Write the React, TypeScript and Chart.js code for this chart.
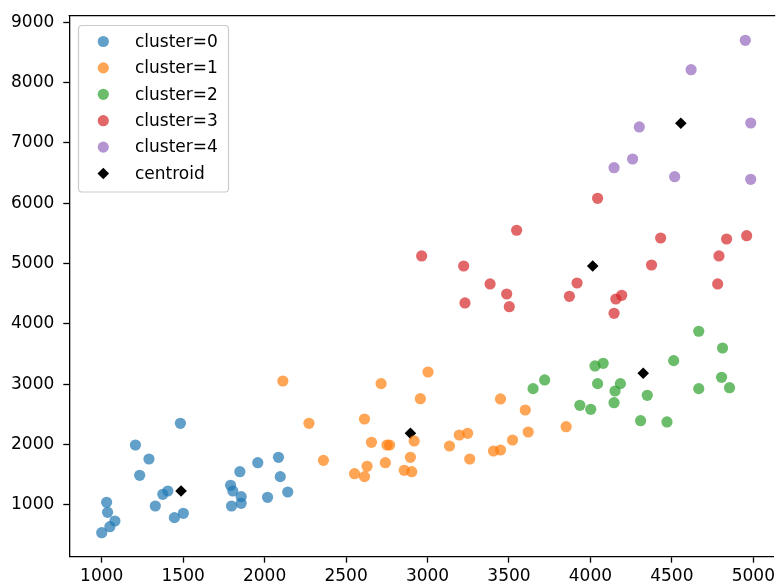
import { useEffect, useRef } from 'react';
import { Chart, registerables } from 'chart.js';

Chart.register(...registerables);

const cluster0X = [1000, 1030, 1036, 1050, 1081, 1207, 1233, 1290, 1329, 1375, 1406, 1446, 1483, 1501, 1791, 1805, 1797, 1856, 1856, 1848, 1958, 2018, 2085, 2096, 2142];
const cluster0Y = [541, 1045, 879, 640, 735, 1994, 1492, 1762, 983, 1177, 1232, 790, 2354, 862, 1326, 1232, 983, 1138, 1028, 1552, 1701, 1127, 1790, 1470, 1215];

const cluster1X = [2112, 2272, 2361, 2552, 2613, 2629, 2613, 2656, 2715, 2741, 2751, 2767, 2857, 2903, 2895, 2918, 2956, 3003, 3135, 3195, 3246, 3259, 3405, 3448, 3448, 3522, 3600, 3618, 3851];
const cluster1Y = [3055, 2354, 1740, 1519, 1470, 1641, 2425, 2039, 3011, 1701, 1994, 1994, 1575, 1552, 1790, 2061, 2762, 3204, 1978, 2160, 2188, 1762, 1895, 1911, 2757, 2077, 2574, 2210, 2298];

const cluster2X = [3648, 3719, 3935, 4002, 4028, 4078, 4044, 4184, 4151, 4145, 4349, 4308, 4470, 4511, 4665, 4665, 4811, 4805, 4854];
const cluster2Y = [2928, 3072, 2652, 2586, 3304, 3348, 3011, 3011, 2889, 2695, 2818, 2397, 2376, 3392, 3879, 2928, 3602, 3116, 2944];

const cluster3X = [2964, 3222, 3230, 3384, 3486, 3502, 3547, 3871, 3918, 4044, 4156, 4192, 4145, 4375, 4431, 4781, 4789, 4836, 4959];
const cluster3Y = [5127, 4961, 4348, 4663, 4497, 4286, 5553, 4459, 4679, 6083, 4414, 4475, 4177, 4977, 5425, 4663, 5127, 5408, 5463];

const cluster4X = [4951, 4618, 4300, 4984, 4259, 4145, 4517, 4984];
const cluster4Y = [8701, 8214, 7265, 7331, 6734, 6590, 6441, 6398];

const centroidX = [1487, 2895, 4324, 4014, 4555];
const centroidY = [1232, 2188, 3183, 4961, 7326];

const xTicks = [1000, 1500, 2000, 2500, 3000, 3500, 4000, 4500, 5000];
const yTicks = [1000, 2000, 3000, 4000, 5000, 6000, 7000, 8000, 9000];

const seriesLabels = ['cluster=0', 'cluster=1', 'cluster=2', 'cluster=3', 'cluster=4', 'centroid'];
const seriesColors = [
  'rgba(31,119,180,0.7)',
  'rgba(255,127,14,0.7)',
  'rgba(44,160,44,0.7)',
  'rgba(214,39,40,0.7)',
  'rgba(148,103,189,0.7)',
  '#000000',
];

const toPoints = (xs: number[], ys: number[]) => xs.map((x, i) => ({ x, y: ys[i] }));

const FONT = '"DejaVu Sans", sans-serif';
const POINT_R = 5.6;
const DIAMOND_R = 5.8;

function drawDiamond(ctx: CanvasRenderingContext2D, x: number, y: number, r: number) {
  ctx.beginPath();
  ctx.moveTo(x - r, y);
  ctx.lineTo(x, y - r);
  ctx.lineTo(x + r, y);
  ctx.lineTo(x, y + r);
  ctx.closePath();
  ctx.fill();
}

const framePlugin = {
  id: 'frameTop',
  afterDraw(chart: any) {
    const { ctx, chartArea } = chart;
    ctx.save();
    ctx.strokeStyle = '#000';
    ctx.lineWidth = 1.3;
    ctx.beginPath();
    ctx.moveTo(chartArea.left - 0.65, chartArea.top);
    ctx.lineTo(chartArea.right + 2, chartArea.top);
    ctx.stroke();
    ctx.restore();
  },
};

const legendPlugin = {
  id: 'boxLegend',
  afterDraw(chart: any) {
    const ctx: CanvasRenderingContext2D = chart.ctx;
    ctx.save();
    const x0 = 78.5, y0 = 25.5, w = 150, h = 166.5, r = 3.5;
    ctx.beginPath();
    ctx.moveTo(x0 + r, y0);
    ctx.lineTo(x0 + w - r, y0);
    ctx.arcTo(x0 + w, y0, x0 + w, y0 + r, r);
    ctx.lineTo(x0 + w, y0 + h - r);
    ctx.arcTo(x0 + w, y0 + h, x0 + w - r, y0 + h, r);
    ctx.lineTo(x0 + r, y0 + h);
    ctx.arcTo(x0, y0 + h, x0, y0 + h - r, r);
    ctx.lineTo(x0, y0 + r);
    ctx.arcTo(x0, y0, x0 + r, y0, r);
    ctx.closePath();
    ctx.fillStyle = 'rgba(255,255,255,0.8)';
    ctx.fill();
    ctx.strokeStyle = '#cccccc';
    ctx.lineWidth = 1.2;
    ctx.stroke();

    ctx.font = '17px ' + FONT;
    ctx.textAlign = 'left';
    ctx.textBaseline = 'alphabetic';
    chart.data.datasets.forEach((ds: any, i: number) => {
      const cy = 41.5 + i * 26.4;
      const cx = 103.3;
      ctx.fillStyle = ds.backgroundColor;
      if (ds.pointStyle === 'rectRot') {
        drawDiamond(ctx, cx, cy, DIAMOND_R);
      } else {
        ctx.beginPath();
        ctx.arc(cx, cy, POINT_R, 0, Math.PI * 2);
        ctx.fill();
      }
      ctx.fillStyle = '#000';
      ctx.fillText(ds.label, 135, cy + 5.2);
    });
    ctx.restore();
  },
};

export default function App() {
  const canvasRef = useRef<HTMLCanvasElement | null>(null);

  useEffect(() => {
    document.body.style.margin = '0';
    document.body.style.overflow = 'hidden';
    const canvas = canvasRef.current;
    if (!canvas) return;

    const allX = [cluster0X, cluster1X, cluster2X, cluster3X, cluster4X, centroidX];
    const allY = [cluster0Y, cluster1Y, cluster2Y, cluster3Y, cluster4Y, centroidY];

    const datasets = seriesLabels.map((label, i) => {
      const isCentroid = i === 5;
      return {
        label,
        data: toPoints(allX[i], allY[i]),
        backgroundColor: seriesColors[i],
        borderWidth: 0,
        pointStyle: isCentroid ? 'rectRot' : 'circle',
        pointRadius: isCentroid ? DIAMOND_R : POINT_R,
        pointHoverRadius: isCentroid ? DIAMOND_R : POINT_R,
      };
    });

    const tickCommon = {
      color: '#000',
      font: { family: FONT, size: 17 },
      callback: (v: any) => String(v),
    };

    const chart = new Chart(canvas, {
      type: 'scatter',
      data: { datasets: datasets as any },
      plugins: [framePlugin, legendPlugin],
      options: {
        animation: false,
        responsive: false,
        devicePixelRatio: 1,
        layout: { padding: { top: 15.7, left: 0, right: 0, bottom: 0 } },
        plugins: {
          legend: { display: false },
          tooltip: { enabled: false },
        },
        scales: {
          x: {
            type: 'linear',
            position: 'bottom',
            min: 801,
            max: 5122,
            grid: {
              display: true,
              drawOnChartArea: false,
              drawTicks: true,
              tickLength: 6,
              tickWidth: 1.3,
              tickColor: '#000',
            },
            border: { display: true, color: '#000', width: 1.3 },
            ticks: { ...tickCommon, padding: 4, maxRotation: 0, autoSkip: false },
            afterBuildTicks: (scale: any) => {
              scale.ticks = xTicks.map((v) => ({ value: v }));
            },
            afterFit: (scale: any) => {
              scale.height = 29.3;
              scale.paddingLeft = 0;
              scale.paddingRight = 0;
              scale.paddingTop = 0;
              scale.paddingBottom = 0;
            },
          },
          y: {
            type: 'linear',
            position: 'left',
            min: 143,
            max: 9109,
            grid: {
              display: true,
              drawOnChartArea: false,
              drawTicks: true,
              tickLength: 6,
              tickWidth: 1.3,
              tickColor: '#000',
            },
            border: { display: true, color: '#000', width: 1.3 },
            ticks: { ...tickCommon, padding: 9, autoSkip: false },
            afterBuildTicks: (scale: any) => {
              scale.ticks = yTicks.map((v) => ({ value: v }));
            },
            afterFit: (scale: any) => {
              scale.width = 69.3;
              scale.paddingLeft = 0;
              scale.paddingRight = 0;
              scale.paddingTop = 0;
              scale.paddingBottom = 0;
            },
          },
        },
      } as any,
    });

    return () => {
      chart.destroy();
    };
  }, []);

  return (
    <div style={{ width: 779, height: 586, overflow: 'hidden' }}>
      <canvas ref={canvasRef} width={779} height={586} style={{ display: 'block' }} />
    </div>
  );
}
